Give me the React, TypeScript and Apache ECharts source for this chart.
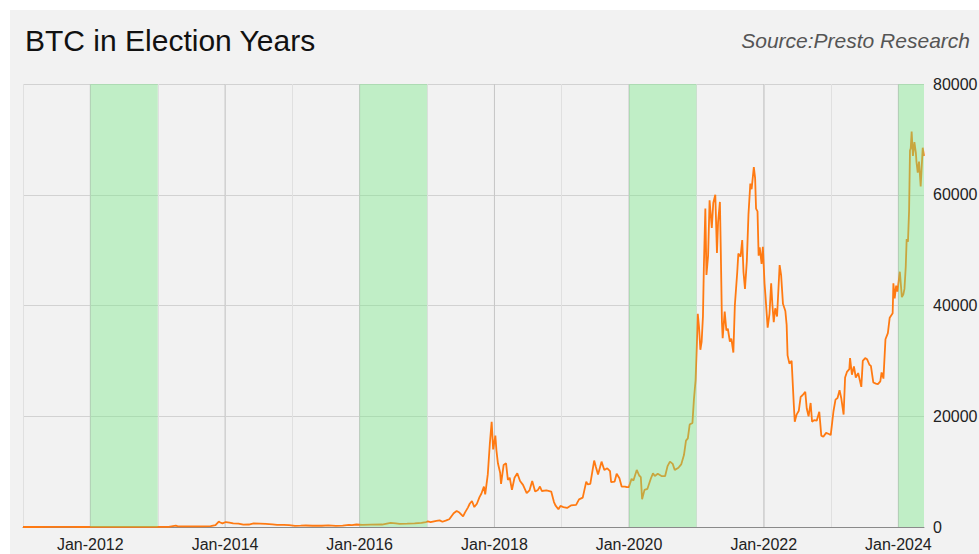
import React, { useEffect, useRef } from "react";
import * as echarts from "echarts";

// ---- data ----
const electionYears = [2012, 2016, 2020, 2024];
const labelYears = [2012, 2014, 2016, 2018, 2020, 2022, 2024];
const axisStart = "2011-01-01";
const axisEnd = "2024-05-19";
const yMin = 0;
const yMax = 80000;
const yStep = 20000;

const btc2011to2016: [string, number][] = [
  ["2011-01-01", 0.3], ["2011-03-01", 0.9], ["2011-06-08", 29], ["2011-07-15", 14],
  ["2011-09-15", 5], ["2011-11-20", 2.5], ["2012-01-15", 6], ["2012-04-01", 5],
  ["2012-06-15", 6.5], ["2012-08-15", 11], ["2012-11-01", 11], ["2013-01-01", 13],
  ["2013-03-01", 34], ["2013-04-09", 230], ["2013-04-20", 120], ["2013-06-15", 110],
  ["2013-08-15", 110], ["2013-10-15", 150], ["2013-11-10", 330], ["2013-11-28", 980],
  ["2013-12-06", 820], ["2013-12-18", 650], ["2014-01-05", 900], ["2014-01-25", 800],
  ["2014-02-14", 650], ["2014-03-15", 620], ["2014-04-10", 430], ["2014-05-10", 450],
  ["2014-06-05", 660], ["2014-07-10", 620], ["2014-08-10", 580], ["2014-09-15", 470],
  ["2014-10-10", 380], ["2014-11-15", 390], ["2014-12-15", 340], ["2015-01-15", 210],
  ["2015-02-15", 240], ["2015-03-15", 270], ["2015-04-20", 225], ["2015-06-10", 230],
  ["2015-07-15", 290], ["2015-08-25", 220], ["2015-10-01", 240], ["2015-11-04", 400],
  ["2015-11-20", 330], ["2015-12-15", 450], ["2016-01-15", 390], ["2016-03-01", 430],
  ["2016-05-01", 450], ["2016-06-17", 760], ["2016-07-15", 660], ["2016-08-05", 580],
  ["2016-09-15", 610], ["2016-10-25", 660], ["2016-12-01", 750], ["2016-12-25", 900],
];

const btc2017to2019: [string, number][] = [
  ["2017-01-05", 1000], ["2017-01-20", 900], ["2017-02-20", 1100], ["2017-03-10", 1200],
  ["2017-03-25", 950], ["2017-04-15", 1200], ["2017-05-01", 1400], ["2017-05-25", 2500],
  ["2017-06-10", 2900], ["2017-06-25", 2600], ["2017-07-15", 1900], ["2017-07-25", 2600],
  ["2017-08-10", 3500], ["2017-08-20", 4200], ["2017-09-01", 4700], ["2017-09-14", 3600],
  ["2017-09-28", 4200], ["2017-10-12", 5400], ["2017-10-22", 6000], ["2017-11-05", 7300],
  ["2017-11-12", 5900], ["2017-11-26", 9500], ["2017-12-07", 15000], ["2017-12-17", 19000],
  ["2017-12-25", 14000], ["2018-01-06", 16500], ["2018-01-12", 13800], ["2018-01-20", 11500],
  ["2018-02-01", 9800], ["2018-02-06", 7800], ["2018-02-20", 11200], ["2018-03-05", 11500],
  ["2018-03-15", 8500], ["2018-03-25", 8900], ["2018-04-06", 6700], ["2018-04-20", 8900],
  ["2018-05-05", 9700], ["2018-05-20", 8300], ["2018-06-05", 7600], ["2018-06-25", 6100],
  ["2018-07-10", 6600], ["2018-07-25", 8300], ["2018-08-10", 6400], ["2018-08-25", 6700],
  ["2018-09-05", 7300], ["2018-09-15", 6500], ["2018-10-10", 6600], ["2018-11-05", 6400],
  ["2018-11-20", 4500], ["2018-11-28", 3900], ["2018-12-14", 3200], ["2018-12-25", 3800],
  ["2019-01-10", 3600], ["2019-01-30", 3450], ["2019-02-20", 3900], ["2019-03-20", 4000],
  ["2019-04-05", 5000], ["2019-04-25", 5300], ["2019-05-14", 8200], ["2019-05-22", 7700],
  ["2019-06-05", 7800], ["2019-06-26", 12000], ["2019-07-05", 10900], ["2019-07-17", 9500],
  ["2019-08-05", 11800], ["2019-08-20", 10300], ["2019-09-05", 10600], ["2019-09-20", 10100],
  ["2019-09-26", 8100], ["2019-10-15", 8200], ["2019-10-26", 9600], ["2019-11-10", 8800],
  ["2019-11-22", 7300], ["2019-12-10", 7300], ["2019-12-20", 7200], ["2019-12-31", 7200],
];

const btc2020to2021: [string, number][] = [
  ["2020-01-15", 8700], ["2020-01-25", 8400], ["2020-02-12", 10300], ["2020-02-25", 9300],
  ["2020-03-05", 9000], ["2020-03-12", 5000], ["2020-03-25", 6700], ["2020-04-10", 6900],
  ["2020-04-29", 8800], ["2020-05-10", 9700], ["2020-05-20", 9200], ["2020-06-05", 9600],
  ["2020-06-25", 9200], ["2020-07-15", 9200], ["2020-07-28", 11000], ["2020-08-10", 11800],
  ["2020-08-25", 11400], ["2020-09-05", 10300], ["2020-09-25", 10700], ["2020-10-10", 11300],
  ["2020-10-25", 13000], ["2020-11-05", 15600], ["2020-11-15", 16000], ["2020-11-25", 18500],
  ["2020-12-10", 18800], ["2020-12-18", 23000], ["2020-12-27", 26500], ["2021-01-03", 33000],
  ["2021-01-08", 38500], ["2021-01-15", 36000], ["2021-01-22", 32000], ["2021-01-29", 33500],
  ["2021-02-05", 38000], ["2021-02-10", 47000], ["2021-02-18", 57500], ["2021-02-24", 45500],
  ["2021-03-05", 49000], ["2021-03-13", 59000], ["2021-03-25", 54000], ["2021-04-02", 58500],
  ["2021-04-13", 60000], ["2021-04-22", 49500], ["2021-04-28", 55000], ["2021-05-08", 58700],
  ["2021-05-13", 49500], ["2021-05-19", 37000], ["2021-05-23", 34100], ["2021-06-03", 38900],
  ["2021-06-12", 35500], ["2021-06-20", 35800], ["2021-07-01", 33500], ["2021-07-09", 34000],
  ["2021-07-20", 31500], ["2021-07-28", 40000], ["2021-08-10", 46000], ["2021-08-16", 49400],
  ["2021-08-28", 48800], ["2021-09-06", 51800], ["2021-09-13", 46000], ["2021-09-21", 43000],
  ["2021-10-01", 48000], ["2021-10-10", 56500], ["2021-10-20", 62000], ["2021-10-27", 61000],
  ["2021-11-08", 65000], ["2021-11-15", 63000], ["2021-11-20", 57500], ["2021-11-28", 57000],
  ["2021-12-04", 49000], ["2021-12-10", 50500], ["2021-12-20", 47500], ["2021-12-27", 50600],
];

const btc2022to2024: [string, number][] = [
  ["2022-01-05", 44000], ["2022-01-10", 41800], ["2022-01-22", 36000], ["2022-02-01", 38500],
  ["2022-02-10", 44000], ["2022-02-17", 40000], ["2022-02-24", 37000], ["2022-03-04", 39500],
  ["2022-03-14", 38000], ["2022-03-28", 47300], ["2022-04-05", 45500], ["2022-04-15", 40300],
  ["2022-04-28", 39000], ["2022-05-05", 36500], ["2022-05-10", 31000], ["2022-05-20", 29500],
  ["2022-06-01", 30000], ["2022-06-13", 22000], ["2022-06-18", 19000], ["2022-06-28", 20300],
  ["2022-07-10", 21000], ["2022-07-20", 23500], ["2022-07-30", 23800], ["2022-08-14", 24400],
  ["2022-08-22", 21400], ["2022-09-01", 20000], ["2022-09-12", 22400], ["2022-09-20", 19000],
  ["2022-10-01", 19300], ["2022-10-15", 19200], ["2022-10-29", 20800], ["2022-11-09", 16500],
  ["2022-11-20", 16300], ["2022-12-05", 17000], ["2022-12-20", 16800], ["2022-12-30", 16600],
  ["2023-01-14", 20900], ["2023-01-25", 23000], ["2023-02-05", 23300], ["2023-02-16", 24700],
  ["2023-02-25", 23300], ["2023-03-10", 20300], ["2023-03-18", 27000], ["2023-03-28", 28000],
  ["2023-04-10", 28500], ["2023-04-14", 30500], ["2023-04-24", 27500], ["2023-05-05", 29000],
  ["2023-05-15", 27000], ["2023-05-28", 27800], ["2023-06-14", 25300], ["2023-06-22", 30000],
  ["2023-07-05", 30500], ["2023-07-15", 30300], ["2023-07-28", 29300], ["2023-08-05", 29100],
  ["2023-08-18", 26100], ["2023-09-01", 25900], ["2023-09-12", 25800], ["2023-09-25", 26300],
  ["2023-10-02", 27900], ["2023-10-12", 26800], ["2023-10-23", 33900], ["2023-11-05", 35000],
  ["2023-11-15", 37800], ["2023-12-01", 38600], ["2023-12-05", 44000], ["2023-12-12", 41300],
  ["2023-12-20", 43600], ["2023-12-27", 42500], ["2024-01-09", 46100], ["2024-01-20", 41500],
  ["2024-01-28", 42000], ["2024-02-03", 43000], ["2024-02-10", 47000], ["2024-02-15", 52000],
  ["2024-02-22", 51500], ["2024-02-28", 57000], ["2024-03-04", 68000], ["2024-03-08", 68400],
  ["2024-03-13", 71400], ["2024-03-20", 67000], ["2024-03-28", 69500], ["2024-04-05", 67500],
  ["2024-04-08", 66000], ["2024-04-15", 64000], ["2024-04-22", 66000], ["2024-05-01", 61500],
  ["2024-05-12", 68500], ["2024-05-19", 67000],
];

const titleText = "BTC in Election Years";
const sourceText = "Source:Presto Research";

const FONT = "'Liberation Sans', Arial, Helvetica, sans-serif";

export default function App() {
  const ref = useRef<HTMLDivElement>(null);

  useEffect(() => {
    if (!ref.current) return;
    const chart = echarts.init(ref.current, null, { renderer: "svg" });

    const priceData = [...btc2011to2016, ...btc2017to2019, ...btc2020to2021, ...btc2022to2024];
    const endTs = new Date(axisEnd).getTime();
    const bands = electionYears.map((y) => [
      new Date(`${y}-01-01`).getTime(),
      Math.min(new Date(`${y + 1}-01-01`).getTime(), endTs),
    ]);
    const majorLines = labelYears.map((y) => [new Date(`${y}-01-01`).getTime(), 0]);

    chart.setOption({
      animation: false,
      backgroundColor: "#f2f2f2",
      textStyle: { fontFamily: FONT },
      title: [
        {
          text: titleText,
          left: 10,
          top: 10,
          textStyle: { fontSize: 30, fontWeight: "normal", color: "#111", fontFamily: FONT },
        },
        {
          text: sourceText,
          right: 4,
          top: 15,
          textStyle: { fontSize: 21, fontWeight: "normal", fontStyle: "italic", color: "#555", fontFamily: FONT },
        },
      ],
      grid: { left: 13, right: 55, top: 74, bottom: 27, containLabel: false, outerBoundsMode: "none" },
      xAxis: {
        type: "time",
        min: axisStart,
        max: axisEnd,
        minInterval: 365 * 24 * 3600 * 1000,
        maxInterval: 365 * 24 * 3600 * 1000,
        axisLine: { show: true, lineStyle: { color: "#8a8a8a", width: 1 } },
        axisTick: { show: false },
        axisLabel: {
          fontSize: 16,
          color: "#222",
          margin: 9,
          fontFamily: FONT,
          formatter: (v: number) => {
            const d = new Date(v);
            if (d.getMonth() !== 0 || d.getDate() !== 1) return "";
            const y = d.getFullYear();
            return labelYears.includes(y) ? `Jan-${y}` : "";
          },
        },
        splitLine: {
          show: true,
          showMinLine: false,
          showMaxLine: false,
          lineStyle: { color: "#e0e0e0", width: 1 },
        },
      },
      yAxis: {
        type: "value",
        position: "right",
        min: yMin,
        max: yMax,
        interval: yStep,
        axisLine: { show: false },
        axisTick: { show: false },
        axisLabel: {
          fontSize: 16,
          color: "#222",
          margin: 9,
          fontFamily: FONT,
          formatter: (v: number) => String(v),
        },
        splitLine: { show: true, lineStyle: { color: "#d2d2d2", width: 1 } },
      },
      series: [
        {
          type: "custom",
          z: 1,
          silent: true,
          data: majorLines,
          encode: { x: 0, y: 1 },
          renderItem: (params: any, api: any) => {
            const cs = params.coordSys;
            const p = api.coord([api.value(0), 0]);
            return {
              type: "line",
              shape: { x1: p[0], y1: cs.y, x2: p[0], y2: cs.y + cs.height },
              style: { stroke: "#c6c6c6", lineWidth: 1 },
            };
          },
        },
        {
          type: "line",
          data: priceData,
          showSymbol: false,
          symbol: "none",
          z: 2,
          lineStyle: { color: "#ff7a12", width: 1.8 },
          itemStyle: { color: "#ff7a12" },
        },
        {
          type: "custom",
          z: 3,
          silent: true,
          data: bands,
          encode: { x: [0, 1] },
          renderItem: (params: any, api: any) => {
            const cs = params.coordSys;
            const p0 = api.coord([api.value(0), 0]);
            const p1 = api.coord([api.value(1), 0]);
            const rect = echarts.graphic.clipRectByRect(
              { x: p0[0], y: cs.y, width: p1[0] - p0[0], height: cs.height },
              { x: cs.x, y: cs.y, width: cs.width, height: cs.height }
            );
            if (!rect) return null;
            return { type: "rect", shape: rect, style: { fill: "rgba(117,232,132,0.4)" } };
          },
        },
      ],
    });

    return () => chart.dispose();
  }, []);

  return (
    <div
      ref={ref}
      style={{ position: "fixed", left: 10, top: 10, width: 969, height: 544, background: "#f2f2f2" }}
    />
  );
}
